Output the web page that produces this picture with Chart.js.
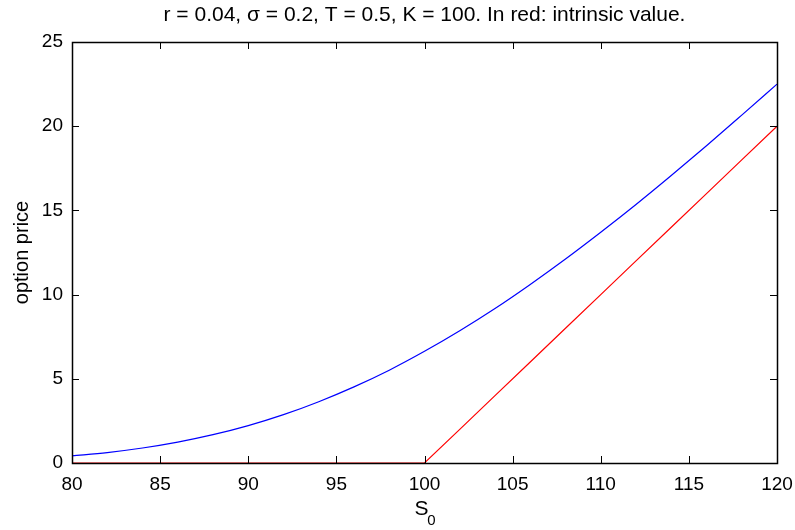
<!DOCTYPE html>
<html>
<head>
<meta charset="utf-8">
<script src="https://cdn.jsdelivr.net/npm/chart.js@4/dist/chart.umd.min.js"></script>
<style>
  html, body { margin: 0; padding: 0; background: #fff; }
  #wrap { width: 795px; height: 530px; }
</style>
</head>
<body>
<div id="wrap"><canvas id="c"></canvas></div>
<script>
// stock prices S0 and the option values
var spot = [80, 82, 84, 86, 88, 90, 92, 94, 96, 98, 100, 102, 104, 106, 108, 110, 112, 114, 116, 118, 120];
var callPrice = [0.42, 0.62, 0.89, 1.24, 1.68, 2.22, 2.87, 3.64, 4.52, 5.51, 6.63, 7.85, 9.17, 10.60, 12.11, 13.70, 15.35, 17.07, 18.84, 20.66, 22.50];
var intrinsic = [0, 0, 0, 0, 0, 0, 0, 0, 0, 0, 0, 2, 4, 6, 8, 10, 12, 14, 16, 18, 20];
var titleText = 'r = 0.04, \u03c3 = 0.2, T = 0.5, K = 100. In red: intrinsic value.';
var yLabel = 'option price';

var fontName = '"Liberation Sans", Arial, sans-serif';

function pairs(xs, ys) {
    return xs.map(function (x, i) { return { x: x, y: ys[i] }; });
}

// matlab style box with ticks pointing inwards, plus title and axis labels
var boxPlugin = {
    id: 'box',
    afterDraw: function (chart) {
        var ctx = chart.ctx, a = chart.chartArea;
        var xs = chart.scales.x, ys = chart.scales.y;
        var len = 7;
        ctx.save();
        ctx.strokeStyle = '#000';
        ctx.lineWidth = 1;
        ctx.beginPath();
        xs.ticks.forEach(function (t) {
            var px = Math.round(xs.getPixelForValue(t.value)) + 0.5;
            ctx.moveTo(px, a.bottom); ctx.lineTo(px, a.bottom - len);
            ctx.moveTo(px, a.top); ctx.lineTo(px, a.top + len);
        });
        ys.ticks.forEach(function (t) {
            var py = Math.round(ys.getPixelForValue(t.value)) + 0.5;
            ctx.moveTo(a.left, py); ctx.lineTo(a.left + len, py);
            ctx.moveTo(a.right, py); ctx.lineTo(a.right - len, py);
        });
        ctx.stroke();
        ctx.lineWidth = 1.5;
        ctx.strokeRect(Math.round(a.left) + 0.5, Math.round(a.top) + 0.5,
            Math.round(a.right - a.left), Math.round(a.bottom - a.top));

        ctx.fillStyle = '#000';
        ctx.textAlign = 'center';
        ctx.textBaseline = 'middle';
        var cx = (a.left + a.right) / 2;
        ctx.font = '21px ' + fontName;
        ctx.fillText(titleText, cx, 15);

        // x label S with subscript 0
        ctx.font = '21px ' + fontName;
        ctx.fillText('S', cx - 3, 509);
        ctx.font = '15px ' + fontName;
        ctx.fillText('0', cx + 7, 521);

        // y label, rotated
        ctx.font = '20px ' + fontName;
        ctx.translate(22, (a.top + a.bottom) / 2);
        ctx.rotate(-Math.PI / 2);
        ctx.fillText(yLabel, 0, 0);
        ctx.restore();
    }
};

var ctx = document.getElementById('c');
var chart = new Chart(ctx, {
    type: 'line',
    data: {
        datasets: [
            {
                data: pairs(spot, callPrice),
                borderColor: '#0000ff',
                borderWidth: 1.2,
                pointRadius: 0,
                cubicInterpolationMode: 'monotone',
                clip: false
            },
            {
                data: pairs(spot, intrinsic),
                borderColor: '#ff0000',
                borderWidth: 1.2,
                pointRadius: 0,
                tension: 0,
                clip: false
            }
        ]
    },
    options: {
        responsive: true,
        maintainAspectRatio: false,
        animation: false,
        layout: { padding: { top: 42, right: 18, left: 0, bottom: 0 } },
        plugins: {
            legend: { display: false },
            title: { display: false },
            tooltip: { enabled: false }
        },
        scales: {
            x: {
                type: 'linear',
                min: 80,
                max: 120,
                grid: { display: false, drawTicks: false },
                border: { display: false },
                ticks: { stepSize: 5, color: '#000', padding: 10, maxRotation: 0, font: { family: fontName, size: 19 } },
                afterFit: function (s) { s.height = 67; s.paddingLeft = 0; s.paddingRight = 0; }
            },
            y: {
                min: 0,
                max: 25,
                grid: { display: false, drawTicks: false },
                border: { display: false },
                ticks: { stepSize: 5, color: '#000', padding: 9, font: { family: fontName, size: 19 } },
                afterFit: function (s) { s.width = 72; s.paddingTop = 0; s.paddingBottom = 0; }
            }
        }
    },
    plugins: [boxPlugin]
});
</script>
</body>
</html>
